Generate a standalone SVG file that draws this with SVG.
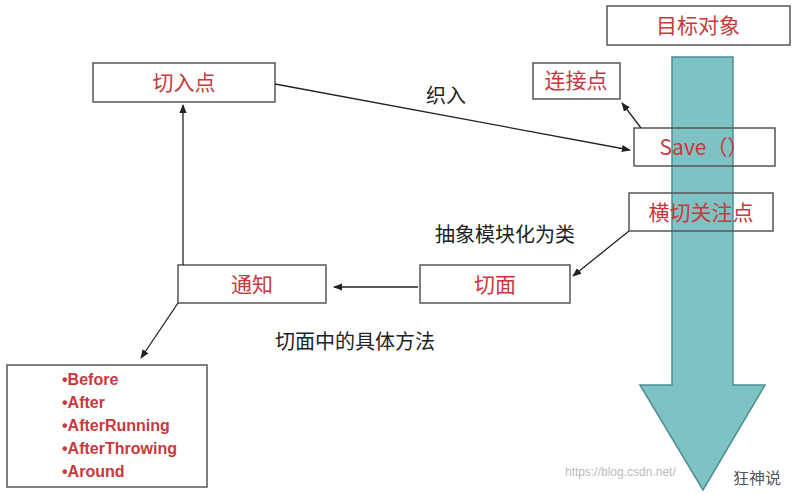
<svg xmlns="http://www.w3.org/2000/svg" width="795" height="494" viewBox="0 0 795 494">
<defs>
<marker id="ah" viewBox="0 0 10 10" refX="9" refY="5" markerWidth="7" markerHeight="7" orient="auto"><path d="M0,1 L10,5 L0,9 z" fill="#222"/></marker>
<style>
.box{fill:#fff;stroke:#555;stroke-width:1.5}
.ob{fill:none;stroke:#555;stroke-width:1.5}
.rt{font-family:"Noto Sans CJK SC","Liberation Sans",sans-serif;font-size:21px;fill:#c8383c;text-anchor:middle}
.bt{font-family:"Noto Sans CJK SC",sans-serif;font-size:20px;fill:#222;text-anchor:middle}
.li{font-family:"Liberation Sans",sans-serif;font-size:16px;font-weight:bold;fill:#c8383c}
.cn{stroke:#222;stroke-width:1.3;fill:none;marker-end:url(#ah)}
</style>
</defs>
<rect width="795" height="494" fill="#fff"/>
<g id="target-arrow">
<path d="M672,57 L733,57 L733,385 L765,385 L703,490 L640,385 L672,385 z" fill="#7fc2c4" stroke="#4a8f92" stroke-width="1.5"/>
</g>
<g id="target"><rect class="box" x="607" y="6" width="183" height="39"/><text class="rt" x="698" y="33">目标对象</text></g>
<g id="joinpoint"><rect class="box" x="533" y="63" width="87" height="36"/><text class="rt" x="576" y="88">连接点</text></g>
<g id="save"><rect class="ob" x="634" y="128" width="141" height="38"/><text class="rt" x="704" y="155" font-size="22">Save（）</text></g>
<g id="crosscut"><rect class="ob" x="629" y="193" width="144" height="38"/><text class="rt" x="701" y="220">横切关注点</text></g>
<g id="pointcut"><rect class="box" x="93" y="63" width="182" height="39"/><text class="rt" x="184" y="90">切入点</text></g>
<g id="advice"><rect class="box" x="178" y="265" width="148" height="38"/><text class="rt" x="252" y="292">通知</text></g>
<g id="aspect"><rect class="box" x="420" y="265" width="150" height="38"/><text class="rt" x="495" y="292">切面</text></g>
<g id="types"><rect class="box" x="7" y="365" width="200" height="122"/>
<text class="li" x="62" y="385">•Before</text>
<text class="li" x="62" y="408">•After</text>
<text class="li" x="62" y="431">•AfterRunning</text>
<text class="li" x="62" y="454">•AfterThrowing</text>
<text class="li" x="62" y="477">•Around</text></g>
<g id="connectors">
<line class="cn" x1="275" y1="84" x2="630" y2="150"/>
<line class="cn" x1="641" y1="128" x2="622" y2="103"/>
<line class="cn" x1="629" y1="231" x2="573" y2="276"/>
<line class="cn" x1="418" y1="287" x2="334" y2="287"/>
<line class="cn" x1="183" y1="265" x2="183" y2="105"/>
<line class="cn" x1="178" y1="303" x2="141" y2="358"/>
</g>
<g id="labels">
<text class="bt" x="446" y="103">织入</text>
<text class="bt" x="505" y="242">抽象模块化为类</text>
<text class="bt" x="355" y="349">切面中的具体方法</text>
<text x="565" y="476" font-family="Liberation Sans,sans-serif" font-size="12" fill="#bbb">https://blog.csdn.net/</text>
<text x="733" y="484" font-family="Noto Sans CJK SC,sans-serif" font-size="16" fill="#555">狂神说</text>
</g>
</svg>
